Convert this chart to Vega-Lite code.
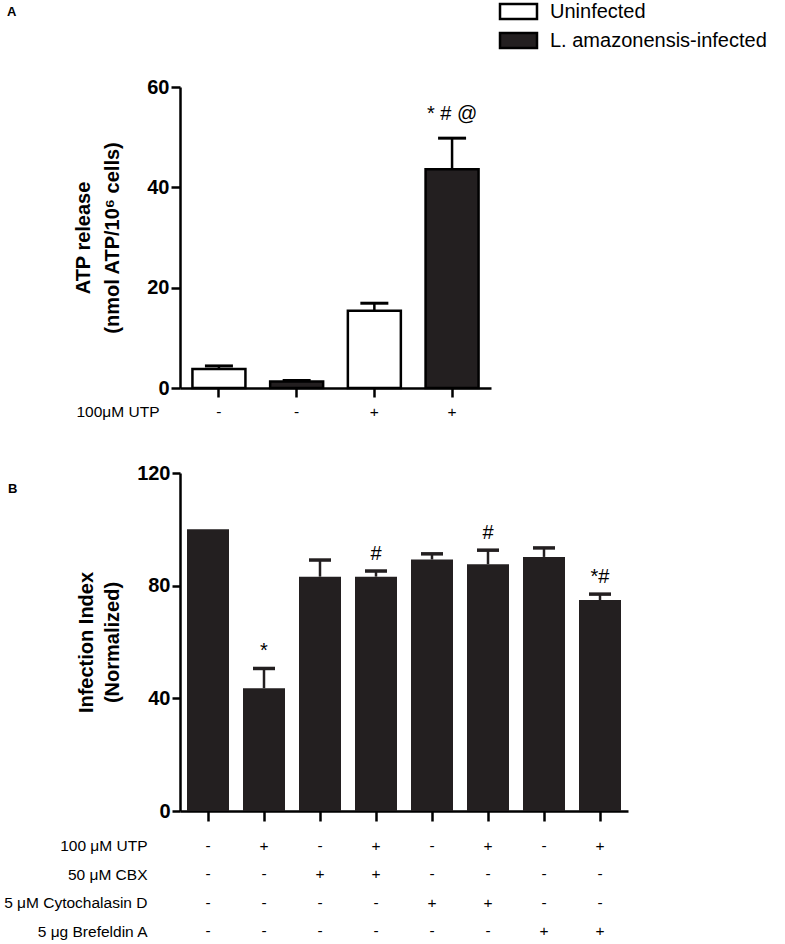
{
  "$schema": "https://vega.github.io/schema/vega-lite/v6.json",
  "padding": {"left": 3, "top": 1, "right": 0, "bottom": 0},
  "bounds": "flush",
  "spacing": 10,
  "config": {
    "view": {"stroke": null},
    "font": "Liberation Sans",
    "axis": {"domainColor": "#000", "domainWidth": 2.5, "tickColor": "#000", "tickWidth": 2.5, "labelColor": "#000", "titleColor": "#000", "grid": false},
    "text": {"color": "#000"}
  },
  "resolve": {"scale": {"x": "independent", "y": "independent", "fill": "independent"}, "legend": {"fill": "independent"}},
  "datasets": {
    "atp": [
      {"cond": "1", "group": "Uninfected", "mean": 3.8, "upper": 4.4, "utp": "-", "sig": ""},
      {"cond": "2", "group": "L. amazonensis-infected", "mean": 1.3, "upper": 1.5, "utp": "-", "sig": ""},
      {"cond": "3", "group": "Uninfected", "mean": 15.4, "upper": 16.9, "utp": "+", "sig": ""},
      {"cond": "4", "group": "L. amazonensis-infected", "mean": 43.6, "upper": 49.8, "utp": "+", "sig": "* # @"}
    ],
    "inf": [
      {"cond": "1", "mean": 100, "upper": null, "utp": "-", "cbx": "-", "cytd": "-", "bfa": "-", "sig": ""},
      {"cond": "2", "mean": 43.6, "upper": 50.6, "utp": "+", "cbx": "-", "cytd": "-", "bfa": "-", "sig": "*"},
      {"cond": "3", "mean": 83.2, "upper": 89.1, "utp": "-", "cbx": "+", "cytd": "-", "bfa": "-", "sig": ""},
      {"cond": "4", "mean": 83.2, "upper": 85.2, "utp": "+", "cbx": "+", "cytd": "-", "bfa": "-", "sig": "#"},
      {"cond": "5", "mean": 89.3, "upper": 91.3, "utp": "-", "cbx": "-", "cytd": "+", "bfa": "-", "sig": ""},
      {"cond": "6", "mean": 87.6, "upper": 92.6, "utp": "+", "cbx": "-", "cytd": "+", "bfa": "-", "sig": "#"},
      {"cond": "7", "mean": 90.2, "upper": 93.4, "utp": "-", "cbx": "-", "cytd": "-", "bfa": "+", "sig": ""},
      {"cond": "8", "mean": 74.9, "upper": 77.0, "utp": "+", "cbx": "-", "cytd": "-", "bfa": "+", "sig": "*#"}
    ]
  },
  "vconcat": [
    {
      "width": 311,
      "height": 301,
      "data": {"name": "atp"},
      "title": {"text": "A", "anchor": "start", "frame": "group", "orient": "top", "offset": 0, "baseline": "middle", "dx": -173, "dy": 24, "fontSize": 13, "fontWeight": "bold", "color": "#000"},
      "encoding": {
        "x": {"field": "cond", "type": "nominal", "scale": {"paddingInner": 0.318, "paddingOuter": 0.16}, "axis": {"labels": false, "title": null, "tickSize": 9}}
      },
      "layer": [
        {
          "mark": {"type": "bar", "stroke": "#000", "strokeWidth": 2.5},
          "encoding": {
            "y": {"field": "mean", "type": "quantitative", "scale": {"domain": [0, 60], "nice": false},
              "axis": {"values": [0, 20, 40, 60], "title": ["ATP release", "(nmol ATP/10⁶ cells)"], "titleFontSize": 20, "titleFontWeight": "bold", "titleLineHeight": 29, "titlePadding": 24, "labelFontSize": 20, "labelFontWeight": "bold", "labelPadding": 2, "tickSize": 9}},
            "fill": {"field": "group", "type": "nominal",
              "scale": {"domain": ["Uninfected", "L. amazonensis-infected"], "range": ["#ffffff", "#231f20"]},
              "legend": {"orient": "none", "legendX": 328, "legendY": -86, "title": null, "padding": 0, "symbolType": "M-2,-0.8H2V0.8H-2Z", "symbolSize": 342, "symbolStrokeColor": "#000", "symbolStrokeWidth": 2.5, "symbolOpacity": 1, "labelFontSize": 20, "labelColor": "#000", "labelOffset": 21, "labelLimit": 400, "rowPadding": 4}}
          }
        },
        {
          "mark": {"type": "rule", "color": "#000", "strokeWidth": 2.5, "opacity": 1},
          "encoding": {"y": {"field": "mean", "type": "quantitative"}, "y2": {"field": "upper"}}
        },
        {
          "mark": {"type": "tick", "color": "#000", "size": 28, "thickness": 3, "opacity": 1},
          "encoding": {"y": {"field": "upper", "type": "quantitative"}}
        },
        {
          "mark": {"type": "text", "fontSize": 20, "baseline": "middle", "dy": -24},
          "encoding": {"y": {"field": "upper", "type": "quantitative"}, "text": {"field": "sig"}}
        }
      ]
    },
    {
      "width": 311,
      "height": 65,
      "data": {"name": "atp"},
      "transform": [{"fold": ["utp"], "as": ["treatment", "sign"]}],
      "mark": {"type": "text", "fontSize": 15.5, "baseline": "middle"},
      "encoding": {
        "x": {"field": "cond", "type": "nominal", "scale": {"type": "band", "paddingInner": 0.318, "paddingOuter": 0.16}, "axis": null},
        "y": {"field": "treatment", "type": "nominal", "scale": {"type": "point", "padding": 0.5, "align": 0.215},
          "axis": {"domain": false, "ticks": false, "title": null, "labelExpr": "'100μM UTP'", "labelFontSize": 15.5, "labelPadding": 21}},
        "text": {"field": "sign"}
      }
    },
    {
      "width": 448,
      "height": 338,
      "data": {"name": "inf"},
      "title": {"text": "B", "anchor": "start", "frame": "group", "orient": "top", "offset": 0, "baseline": "middle", "dx": -172, "dy": 39, "fontSize": 13, "fontWeight": "bold", "color": "#000"},
      "encoding": {
        "x": {"field": "cond", "type": "nominal", "scale": {"paddingInner": 0.25, "paddingOuter": 0.125}, "axis": {"labels": false, "title": null, "tickSize": 10}}
      },
      "layer": [
        {
          "mark": {"type": "bar", "color": "#231f20"},
          "encoding": {
            "y": {"field": "mean", "type": "quantitative", "scale": {"domain": [0, 120], "nice": false},
              "axis": {"values": [0, 40, 80, 120], "title": ["Infection Index", "(Normalized)"], "titleFontSize": 20, "titleFontWeight": "bold", "titleLineHeight": 26, "titlePadding": 14, "labelFontSize": 20, "labelFontWeight": "bold", "labelPadding": 2, "tickSize": 8}}
          }
        },
        {
          "transform": [{"filter": "datum.upper != null"}],
          "mark": {"type": "rule", "color": "#231f20", "strokeWidth": 2.5, "opacity": 1},
          "encoding": {"y": {"field": "mean", "type": "quantitative"}, "y2": {"field": "upper"}}
        },
        {
          "transform": [{"filter": "datum.upper != null"}],
          "mark": {"type": "tick", "color": "#231f20", "size": 22, "thickness": 3.5, "opacity": 1},
          "encoding": {"y": {"field": "upper", "type": "quantitative"}}
        },
        {
          "transform": [{"filter": "datum.upper != null"}],
          "mark": {"type": "text", "fontSize": 20, "baseline": "middle", "dy": -17},
          "encoding": {"y": {"field": "upper", "type": "quantitative"}, "text": {"field": "sig"}}
        }
      ]
    },
    {
      "width": 448,
      "height": 110,
      "data": {"name": "inf"},
      "transform": [{"fold": ["utp", "cbx", "cytd", "bfa"], "as": ["treatment", "sign"]}],
      "mark": {"type": "text", "fontSize": 15.5, "baseline": "middle"},
      "encoding": {
        "x": {"field": "cond", "type": "nominal", "scale": {"type": "band", "paddingInner": 0.25, "paddingOuter": 0.125}, "axis": null},
        "y": {"field": "treatment", "type": "nominal", "scale": {"type": "point", "domain": ["utp", "cbx", "cytd", "bfa"], "padding": 0.436, "align": 1},
          "axis": {"domain": false, "ticks": false, "title": null, "labelExpr": "datum.value == 'utp' ? '100 μM UTP' : datum.value == 'cbx' ? '50 μM CBX' : datum.value == 'cytd' ? '5 μM Cytochalasin D' : '5 μg Brefeldin A'", "labelFontSize": 15.5, "labelPadding": 33}},
        "text": {"field": "sign"}
      }
    }
  ]
}
